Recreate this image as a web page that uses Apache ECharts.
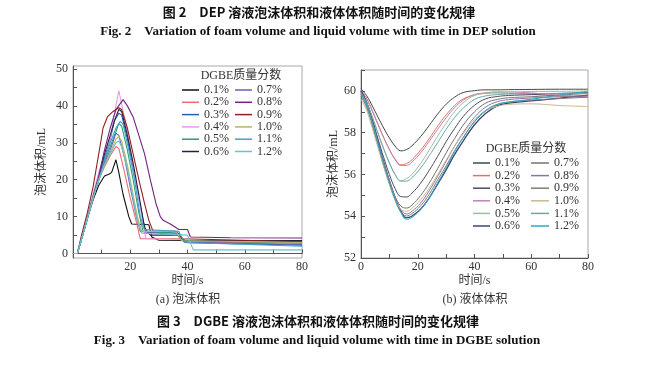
<!DOCTYPE html>
<html><head><meta charset="utf-8">
<script src="https://cdn.jsdelivr.net/npm/echarts@6/dist/echarts.min.js"></script>
<style>html,body{margin:0;padding:0;background:#fff}#c{width:655px;height:390px}</style>
</head><body><div id="c"></div>
<script>
// ---------- data ----------
const concentrations = ['0.1%','0.2%','0.3%','0.4%','0.5%','0.6%','0.7%','0.8%','0.9%','1.0%','1.1%','1.2%'];
const foamYTicks = [0,10,20,30,40,50];
const liquidYTicks = [52,54,56,58,60];

// (a) foam volume, [time s, volume mL]
const foam_01 = [[0,0],[1.5,0],[3,4],[5,9.5],[7,14.5],[9,18.5],[11,21],[12.5,21.5],[13.5,22],[15,25.4],[16,22],[17.5,16],[19.5,10],[20.5,8],[26.5,7.8],[27.5,4.5],[30,3.6],[80,3.4]];
const foam_02 = [[0,0],[1.5,0],[3,4],[5,9.5],[7,15],[9,20],[11,23.5],[13,26.5],[15,29],[16,28.5],[18,22],[20,15],[22,9],[23.5,4],[38,4],[40,3],[80,3]];
const foam_03 = [[0,0],[1.5,0],[3,4],[5,9.5],[7,15],[9,20],[11,26],[13,31],[14.5,36],[16,38],[17,37.5],[19,31],[21,23.5],[23,15],[24.5,9],[25.5,6],[37,5.5],[39,3],[80,2.3]];
const foam_04 = [[0,0],[1.5,0],[3,4.5],[5,10],[7,16],[9,22],[11,27],[13,31],[14.5,38],[16,44.1],[17,40.5],[19,33],[21,24],[23,15],[24.5,8],[25.5,4],[38,3.8],[40,3.5],[80,3.5]];
const foam_05 = [[0,0],[1.5,0],[3,4],[5,9.5],[7,15],[9,20],[11,25],[13,29],[15,33],[16,35.2],[17,34.5],[19,28],[21,20],[23,11],[24.5,6],[36,5.5],[38,3.5],[80,2.8]];
const foam_06 = [[0,0],[1.5,0],[3,4],[5,9.5],[7,15],[9,20.5],[11,27],[13,32],[14.5,36],[16,39],[17,38.5],[19,32],[21,24.5],[23,16],[25,7],[27,5],[37,5],[39,3.5],[80,3.5]];
const foam_07 = [[0,0],[1.5,0],[3,4],[5,9.5],[7,15],[9,20],[11,24.5],[13,28],[15,32.6],[16,32],[18,26],[20,18],[22,10.5],[23.5,6],[30,5.5],[37,5],[39,3],[80,2.5]];
const foam_08 = [[0,0],[1.5,0],[3,4],[5,9.5],[7,15.5],[9,21],[11,28],[13,34],[15,39],[17.5,41.7],[19,40],[21,37],[23,32],[25,27],[27,20],[29,13.5],[30.5,10],[31.5,9],[34,8],[37,6.5],[40,6.5],[41,4.5],[55,4.3],[80,4.2]];
const foam_09 = [[0,0],[1.5,0],[3,5],[5,11],[7,18],[9,27],[10.5,34],[12,37],[14,38.5],[16,39.5],[17,39],[19,34],[21,27],[23,20],[25,13.5],[26.5,9],[28,6],[36,6],[38,4],[80,3.2]];
const foam_10 = [[0,0],[1.5,0],[3,4],[5,9.5],[7,15],[9,20],[11,24],[13,27.5],[15,31],[16,31.7],[17,30.5],[19,24],[21,16],[22.5,10],[24,6],[36,6],[38,3.5],[80,3.0]];
const foam_11 = [[0,0],[1.5,0],[3,4],[5,9.5],[7,15],[9,20],[11,25.5],[13,30],[15,34],[16.5,35.8],[17.5,35],[19.5,28],[21.5,20],[23.5,10],[25,6.5],[37,6],[39,3],[80,2.0]];
const foam_12 = [[0,0],[1.5,0],[3,4],[5,9.5],[7,15],[9,20],[11,24],[13,27],[15,30],[16,30.5],[17,29],[19,23],[21,15],[22.5,9],[24,5.5],[40,5],[42,1],[80,1]];

// (b) liquid volume, shared time axis
const liquidTime = [0,2,4,6,8,10,12,14,16,18,21,24,27,30,33,36,40,44,48,52,60,70,80];
const liquid_01 = [60.1,59.77,59.28,58.74,58.22,57.75,57.36,57.13,57.19,57.38,57.81,58.34,58.89,59.36,59.70,59.92,60.01,60.05,60.05,60.06,60.07,60.08,60.08];
const liquid_02 = [60.0,59.61,59.03,58.38,57.76,57.20,56.74,56.46,56.52,56.71,57.16,57.71,58.31,58.85,59.30,59.61,59.81,59.88,59.90,59.88,59.83,59.75,59.68];
const liquid_03 = [60.0,59.45,58.61,57.70,56.81,56.00,55.33,54.94,54.92,55.11,55.58,56.19,56.86,57.57,58.20,58.77,59.31,59.62,59.73,59.78,59.82,59.88,59.92];
const liquid_04 = [60.05,59.65,59.06,58.41,57.77,57.19,56.71,56.43,56.43,56.60,57.03,57.58,58.16,58.71,59.20,59.55,59.82,59.91,59.95,59.95,59.90,59.80,59.72];
const liquid_05 = [59.95,59.47,58.75,57.96,57.21,56.55,56.00,55.70,55.80,56.01,56.52,57.16,57.83,58.45,59.01,59.43,59.78,59.89,59.94,59.95,59.97,59.98,60.0];
const liquid_06 = [60.0,59.43,58.57,57.57,56.60,55.70,54.89,54.27,53.92,54.01,54.34,54.87,55.54,56.22,56.96,57.60,58.38,58.93,59.28,59.41,59.52,59.65,59.80];
const liquid_07 = [59.85,59.30,58.42,57.48,56.55,55.71,54.95,54.49,54.39,54.54,54.99,55.58,56.28,57.03,57.72,58.36,59.00,59.42,59.59,59.67,59.72,59.80,59.88];
const liquid_08 = [59.95,59.38,58.52,57.53,56.56,55.68,54.90,54.32,54.11,54.24,54.63,55.21,55.90,56.63,57.36,58.00,58.74,59.23,59.48,59.58,59.66,59.72,59.76];
const liquid_09 = [59.75,59.19,58.34,57.38,56.41,55.55,54.78,54.22,54.01,54.13,54.50,55.04,55.73,56.41,57.14,57.77,58.52,59.04,59.34,59.46,59.56,59.63,59.70];
const liquid_10 = [59.6,59.06,58.20,57.28,56.36,55.53,54.79,54.33,54.24,54.38,54.79,55.34,55.99,56.69,57.35,57.94,58.62,59.05,59.26,59.35,59.38,59.30,59.25];
const liquid_11 = [59.9,59.44,58.74,57.98,57.24,56.56,56.01,55.68,55.68,55.85,56.30,56.89,57.52,58.16,58.72,59.17,59.59,59.76,59.82,59.85,59.87,59.88,59.88];
const liquid_12 = [59.85,59.29,58.44,57.45,56.49,55.60,54.81,54.19,53.85,53.95,54.31,54.88,55.59,56.31,57.09,57.75,58.54,59.07,59.36,59.47,59.60,59.80,59.98];

const foamSeriesData = [foam_01,foam_02,foam_03,foam_04,foam_05,foam_06,foam_07,foam_08,foam_09,foam_10,foam_11,foam_12];
const liquidSeriesData = [liquid_01,liquid_02,liquid_03,liquid_04,liquid_05,liquid_06,liquid_07,liquid_08,liquid_09,liquid_10,liquid_11,liquid_12];

// ---------- styles ----------
const foamColors = ['#111111','#f06a6a','#2a5fb0','#e39ce3','#2f9f6c','#23233a','#6262c2','#73227f','#8e2121','#b4b46e','#3ea2d2','#6fc2c2'];
const liquidColors = ['#3e4a42','#e8705e','#4c4c62','#c67fb6','#9cbf9c','#3c4474','#737373','#9272a2','#7e7e6c','#c9b98f','#6aa8a8','#2ea8cc'];

const SERIF = '"Liberation Serif","Noto Serif CJK SC","Noto Sans CJK SC",serif';
const CJK = '"Liberation Serif","Noto Sans CJK SC",serif';

const chart = echarts.init(document.getElementById('c'), null, {renderer:'canvas'});

function axisCommon() {
  return {
    axisLine:{show:true,lineStyle:{color:'#555',width:1}},
    axisTick:{show:true,inside:true,length:4,lineStyle:{color:'#555'}},
    axisLabel:{color:'#333',fontFamily:SERIF,fontSize:12},
    splitLine:{show:false},
    nameTextStyle:{color:'#333',fontFamily:CJK,fontSize:12}
  };
}

const series = [];
foamSeriesData.forEach((d,i)=>{
  series.push({name:'a'+concentrations[i],type:'line',xAxisIndex:0,yAxisIndex:0,data:d,
    symbol:'none',lineStyle:{width:1.1,color:foamColors[i]},itemStyle:{color:foamColors[i]},z:2+i});
});
liquidSeriesData.forEach((d,i)=>{
  series.push({name:'b'+concentrations[i],type:'line',xAxisIndex:1,yAxisIndex:1,
    data:liquidTime.map((t,k)=>[t,d[k]]),smooth:0.4,
    symbol:'none',lineStyle:{width:i===5?1.3:1,color:liquidColors[i]},itemStyle:{color:liquidColors[i]},z:2+i});
});

function legendCfg(prefix, names, left, top, lh, gap, iw) {
  return {data:names.map(n=>prefix+n),orient:'vertical',left:left,top:top,padding:0,
    itemWidth:iw,itemHeight:1.5,icon:'rect',itemGap:gap,selectedMode:false,
    formatter:n=>n.slice(1),
    textStyle:{fontFamily:SERIF,fontSize:12,lineHeight:lh,color:'#333'}};
}

const option = {
  animation:false,
  backgroundColor:'#fff',
  grid:[
    {left:73,top:66,width:229,height:192,show:true,borderColor:'#a8a8a8',borderWidth:1,backgroundColor:'transparent'},
    {left:361,top:70,width:227,height:188,show:true,borderColor:'#a8a8a8',borderWidth:1,backgroundColor:'transparent'}
  ],
  xAxis:[
    Object.assign(axisCommon(),{gridIndex:0,type:'value',min:0,max:80,interval:10,
      name:'时间/s',nameLocation:'middle',nameGap:17,
      axisLabel:{color:'#333',fontFamily:SERIF,fontSize:12,margin:3,
        formatter:v=>(v%20===0&&v>0)?String(v):''}}),
    Object.assign(axisCommon(),{gridIndex:1,type:'value',min:0,max:80,interval:10,
      name:'时间/s',nameLocation:'middle',nameGap:17,
      axisLabel:{color:'#333',fontFamily:SERIF,fontSize:12,margin:3,
        formatter:v=>(v%20===0)?String(v):''}})
  ],
  yAxis:[
    Object.assign(axisCommon(),{gridIndex:0,type:'value',min:-1.2,max:50.8,
      name:'泡沫体积/mL',nameLocation:'middle',nameGap:25,
      axisLabel:{color:'#333',fontFamily:SERIF,fontSize:12,margin:5,customValues:foamYTicks},
      axisTick:{show:true,inside:true,length:4,lineStyle:{color:'#555'},customValues:[0,5,10,15,20,25,30,35,40,45,50]}}),
    Object.assign(axisCommon(),{gridIndex:1,type:'value',min:52,max:61,
      name:'泡沫体积/mL',nameLocation:'middle',nameGap:21,
      axisLabel:{color:'#333',fontFamily:SERIF,fontSize:12,margin:5,customValues:liquidYTicks},
      axisTick:{show:true,inside:true,length:4,lineStyle:{color:'#555'},customValues:[52,53,54,55,56,57,58,59,60,61]}})
  ],
  legend:[
    legendCfg('a',concentrations.slice(0,6),182,84,11,0.3,17),
    legendCfg('a',concentrations.slice(6),235,84,11,0.3,17),
    legendCfg('b',concentrations.slice(0,6),473,157,12,0.6,17),
    legendCfg('b',concentrations.slice(6),531,157,12,0.6,18)
  ],
  graphic:[
    {type:'text',x:319,y:12,style:{text:'图 2　DEP 溶液泡沫体积和液体体积随时间的变化规律',textAlign:'center',textVerticalAlign:'middle',font:'bold 13px "Noto Sans CJK SC","Liberation Serif",sans-serif',fill:'#111'}},
    {type:'text',x:318,y:32,style:{text:'Fig. 2　Variation of foam volume and liquid volume with time in DEP solution',textAlign:'center',textVerticalAlign:'middle',font:'bold 13px "Liberation Serif",serif',fill:'#111'}},
    {type:'text',x:241,y:76,style:{text:'DGBE质量分数',textAlign:'center',textVerticalAlign:'middle',font:'12px '+CJK,fill:'#333'}},
    {type:'text',x:526,y:149,style:{text:'DGBE质量分数',textAlign:'center',textVerticalAlign:'middle',font:'12px '+CJK,fill:'#333'}},
    {type:'text',x:188,y:300,style:{text:'(a) 泡沫体积',textAlign:'center',textVerticalAlign:'middle',font:'12px '+CJK,fill:'#333'}},
    {type:'text',x:475,y:300,style:{text:'(b) 液体体积',textAlign:'center',textVerticalAlign:'middle',font:'12px '+CJK,fill:'#333'}},
    {type:'text',x:318,y:321,style:{text:'图 3　DGBE 溶液泡沫体积和液体体积随时间的变化规律',textAlign:'center',textVerticalAlign:'middle',font:'bold 13px "Noto Sans CJK SC","Liberation Serif",sans-serif',fill:'#111'}},
    {type:'text',x:317,y:341,style:{text:'Fig. 3　Variation of foam volume and liquid volume with time in DGBE solution',textAlign:'center',textVerticalAlign:'middle',font:'bold 13px "Liberation Serif",serif',fill:'#111'}}
  ],
  series:series
};
chart.setOption(option);
</script></body></html>
